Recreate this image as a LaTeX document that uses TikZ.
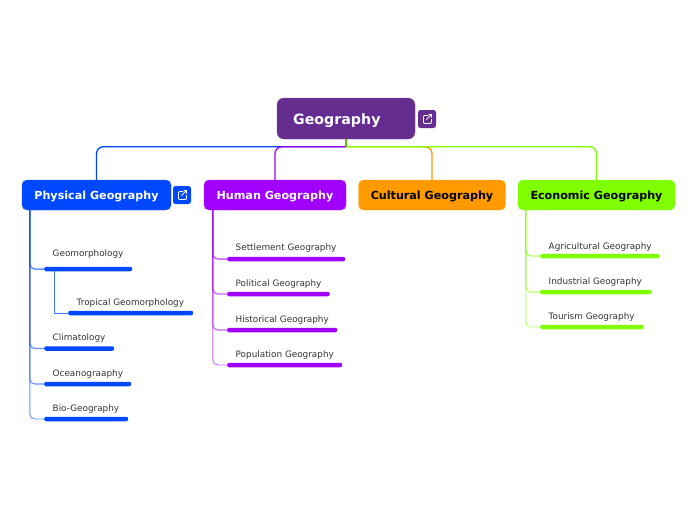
\documentclass[tikz,border=0pt]{standalone}
\usepackage{fontspec}
\setmainfont{DejaVu Sans}
\definecolor{rootc}{HTML}{662D91}
\definecolor{physc}{HTML}{0048FF}
\definecolor{humanc}{HTML}{A100FF}
\definecolor{cultc}{HTML}{FF9A00}
\definecolor{econc}{HTML}{7FFF00}
\tikzset{
    topic/.style={draw=#1!85!white, fill=#1, rounded corners=5pt, minimum height=30pt, inner sep=0pt, text height=8.3pt, text depth=0pt, font=\bfseries\fontsize{11.15}{12}\selectfont},
    iconbox/.style={fill=#1, rounded corners=2.5pt, minimum size=18pt, inner sep=0pt},
    bar/.style={fill=#1, rounded corners=2pt, minimum height=4.5pt, inner sep=0pt, anchor=west},
    leaftext/.style={anchor=west, inner sep=0pt, text=black!80, font=\fontsize{8.85}{10}\selectfont},
    branch/.style={draw=#1, line width=1.3pt, rounded corners=7pt},
    twig/.style={draw=#1, draw opacity=.6, rounded corners=5pt},
}
\begin{document}
\begin{tikzpicture}[x=1pt,y=-1pt]
    \useasboundingbox (0,0) rectangle (697,520);
    %% main topics
    \node[topic=rootc, minimum width=138pt, minimum height=41pt, rounded corners=7pt] (root) at (346,118.5) {};
    \node[anchor=west, inner sep=0pt, text=white, font=\bfseries\fontsize{14.2}{16}\selectfont] (roottext) at (293,120.5) {Geography};
    \node[topic=physc, minimum width=149pt, text=white] (phys) at (96.5,195) {Physical Geography};
    \node[topic=humanc, minimum width=142pt, text=white] (human) at (275,195) {Human Geography};
    \node[topic=cultc, minimum width=147pt] (cult) at (432,195) {Cultural Geography};
    \node[topic=econc, minimum width=157pt] (econ) at (596.5,195) {Economic Geography};
    %% link icons
    \foreach \name/\x/\y/\col in {rooticon/427/119/rootc,physicon/182/195/physc} {
        \node[iconbox=\col] (\name) at (\x,\y) {};
        \draw[white, line width=.8pt, rounded corners=1pt] (\name) ++(1,-3.5) -- ++(-4.5,0) -- ++(0,8) -- ++(8,0) -- ++(0,-4.5);
        \draw[white, line width=.8pt] (\name) ++(-.5,.5) -- ++(5,-5) ++(-3,0) -- ++(3,0) -- ++(0,3);
    }
    %% branches from the root
    \draw[branch=physc] (root.south) ++(0,7.5) -| (phys.north);
    \draw[branch=humanc] (root.south) ++(0,7.5) -| (human.north);
    \draw[branch=cultc] (root.south) ++(0,7.5) -| (cult.north);
    \draw[branch=econc] (root.south) ++(0,7.5) -| (econ.north);
    \draw[econc!75!black, line width=1.6pt] (root.south) -- ++(0,7.5);
    %% subtopics
    \foreach \name/\parent/\off/\col/\lw/\x/\y/\ty/\w/\txt in {
        geomorph/phys/8/physc/1.5/44/269/254/88/Geomorphology,
        clima/phys/8/physc/1.3/44/348.5/338/70/Climatology,
        ocean/phys/8/physc/1.1/44/384/374/87/Oceanograaphy,
        bio/phys/8/physc/.9/44/419/409/84/Bio-Geography,
        settle/human/9/humanc/1.5/227/259/248/118/Settlement Geography,
        polit/human/9/humanc/1.3/227/294/284/102.5/Political Geography,
        histo/human/9/humanc/1.1/227/330/320/110/Historical Geography,
        popul/human/9/humanc/.9/227/365/355/115/Population Geography,
        agri/econ/8/econc/1.3/540/256/247/119.5/Agricultural Geography,
        indus/econ/8/econc/1.1/540/292/282/111.5/Industrial Geography,
        tour/econ/8/econc/.9/540/327/317/103.5/Tourism Geography} {
        \node[bar=\col, minimum width=\w pt] (\name) at (\x,\y) {};
        \node[leaftext] (\name text) at (\x+8.5,\ty) {\txt};
        \draw[twig=\col, line width=\lw pt] (\parent.south west) ++(\off,0) |- (\name.west);
    }
    %% second level
    \node[bar=physc, minimum width=125pt] (tropic) at (68,313) {};
    \node[leaftext] (tropictext) at (76.5,303) {Tropical Geomorphology};
    \draw[draw=physc!75!white, line width=1pt] (geomorph.west) ++(10.5,2) |- (tropic.west);
\end{tikzpicture}
\end{document}
